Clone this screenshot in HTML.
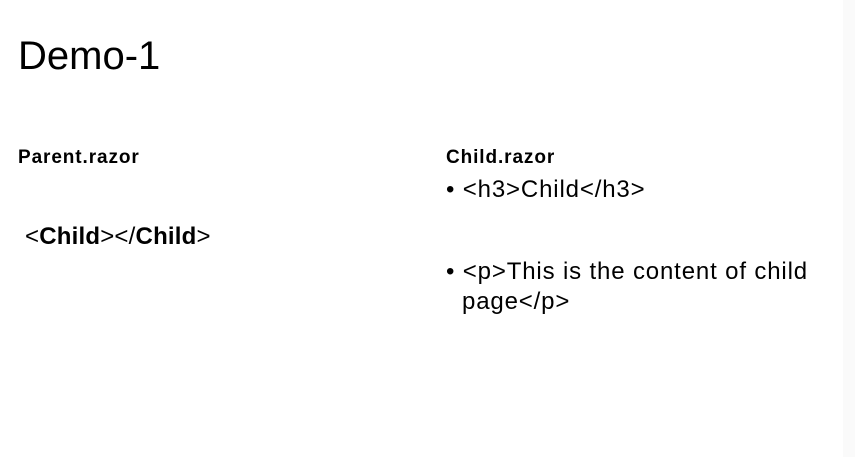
<!DOCTYPE html>
<html><head><style>
body{margin:0;width:855px;height:457px;background:#fff;position:relative;overflow:hidden;font-family:"Liberation Sans",sans-serif;color:#000}
div{position:absolute;white-space:nowrap}
.t{left:18px;top:32px;font-size:40px;line-height:48px}
.h{font-size:19px;font-weight:bold;line-height:22px;letter-spacing:0.9px}
.b{font-size:24px;line-height:28px;letter-spacing:0.85px}
.strip{right:0;top:0;width:12px;height:457px;background:#fafafa}
</style></head><body>
<div class="strip"></div>
<div class="t">Demo-1</div>
<div class="h" style="left:18px;top:147px">Parent.razor</div>
<div class="b" style="left:25px;top:223px;letter-spacing:0.2px">&lt;<b>Child</b>&gt;&lt;/<b>Child</b>&gt;</div>
<div class="h" style="left:446px;top:147px">Child.razor</div>
<div class="b" style="left:446px;top:176px">•&nbsp;&lt;h3&gt;Child&lt;/h3&gt;</div>
<div class="b" style="left:446px;top:258px">•&nbsp;&lt;p&gt;This is the content of child</div>
<div class="b" style="left:462px;top:288px">page&lt;/p&gt;</div>
</body></html>
